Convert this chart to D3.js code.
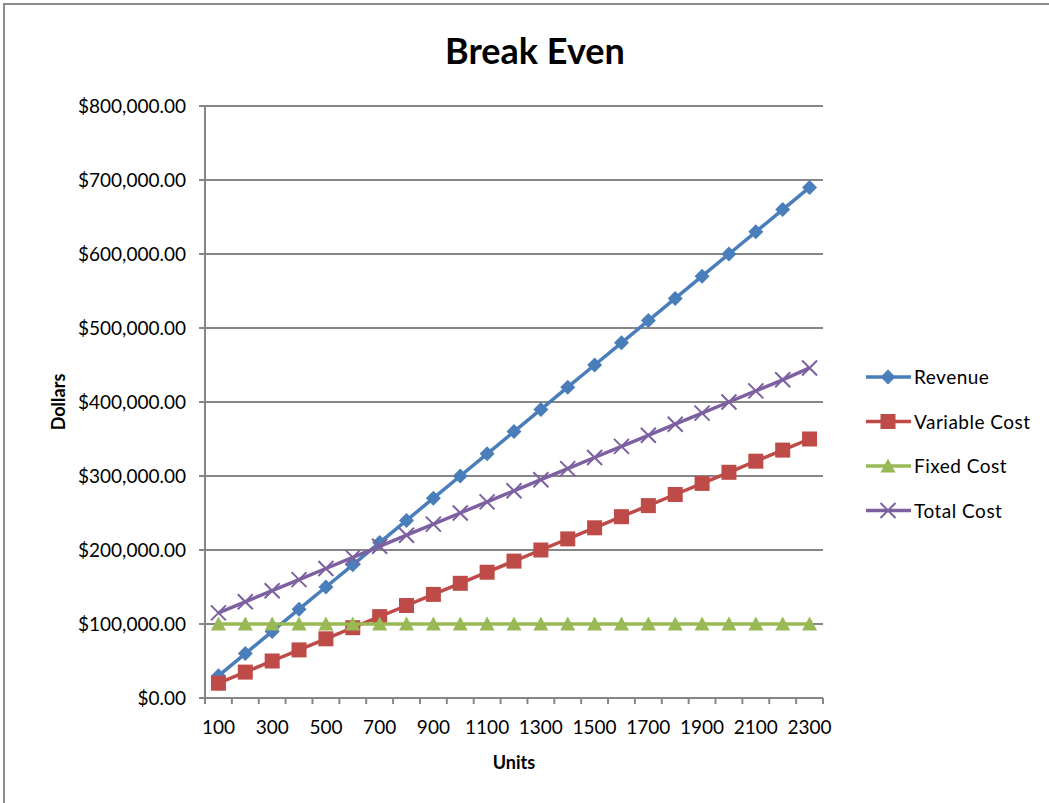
<!DOCTYPE html>
<html>
<head>
<meta charset="utf-8">
<script src="https://cdn.jsdelivr.net/npm/d3@7"></script>
<style>
  body { margin: 0; background: #fff; }
  svg { font-family: Lato, "Open Sans", sans-serif; }
</style>
</head>
<body>
<svg id="canvas" width="1049" height="803"></svg>
<script>
// chart data
const units = [100, 200, 300, 400, 500, 600, 700, 800, 900, 1000, 1100, 1200,
  1300, 1400, 1500, 1600, 1700, 1800, 1900, 2000, 2100, 2200, 2300]
const revenue = [30000, 60000, 90000, 120000, 150000, 180000, 210000, 240000, 270000, 300000,
  330000, 360000, 390000, 420000, 450000, 480000, 510000, 540000, 570000, 600000,
  630000, 660000, 690000]
const variableCost = [20000, 35000, 50000, 65000, 80000, 95000, 110000, 125000, 140000, 155000,
  170000, 185000, 200000, 215000, 230000, 245000, 260000, 275000, 290000, 305000,
  320000, 335000, 350000]
const fixedCost = [100000, 100000, 100000, 100000, 100000, 100000, 100000, 100000, 100000, 100000,
  100000, 100000, 100000, 100000, 100000, 100000, 100000, 100000, 100000, 100000,
  100000, 100000, 100000]
const totalCost = [115000, 130000, 145000, 160000, 175000, 190000, 205000, 220000, 235000, 250000,
  265000, 280000, 295000, 310000, 325000, 340000, 355000, 370000, 385000, 400000,
  415000, 430000, 446000]
const yTicks = [0, 100000, 200000, 300000, 400000, 500000, 600000, 700000, 800000]
const seriesNames = ['Revenue', 'Variable Cost', 'Fixed Cost', 'Total Cost']

const series = [
  {name: seriesNames[0], values: revenue, color: '#4a7ebb', marker: 'diamond'},
  {name: seriesNames[1], values: variableCost, color: '#be4b48', marker: 'square'},
  {name: seriesNames[2], values: fixedCost, color: '#98b954', marker: 'triangle'},
  {name: seriesNames[3], values: totalCost, color: '#7d60a0', marker: 'x'}
]

let canvas = d3.select('#canvas')

// chart frame
canvas.append('rect')
  .attr('x', 4).attr('y', 4)
  .attr('width', 1100).attr('height', 900)
  .attr('fill', 'none')
  .attr('stroke', '#8c8c8c')
  .attr('stroke-width', 2)

const plotLeft = 205, plotRight = 823, plotTop = 106, plotBottom = 698

let x = d3.scaleBand().domain(units).range([plotLeft, plotRight])
let y = d3.scaleLinear().domain([0, 800000]).range([plotBottom, plotTop])

// gridlines
canvas.append('g').selectAll('line')
  .data(yTicks)
  .enter().append('line')
  .attr('x1', plotLeft - 6).attr('x2', plotRight)
  .attr('y1', d => y(d)).attr('y2', d => y(d))
  .attr('stroke', '#868686')
  .attr('stroke-width', 2)

// y axis labels
canvas.append('g').selectAll('text')
  .data(yTicks)
  .enter().append('text')
  .attr('x', 186)
  .attr('y', d => y(d) + 7)
  .attr('text-anchor', 'end')
  .attr('font-size', 19)
  .attr('fill', '#000')
  .text(d => '$' + d3.format(',.2f')(d))

// y axis line
canvas.append('line')
  .attr('x1', plotLeft).attr('x2', plotLeft)
  .attr('y1', plotTop).attr('y2', plotBottom)
  .attr('stroke', '#868686').attr('stroke-width', 2)

// x axis line and ticks between categories
canvas.append('line')
  .attr('x1', plotLeft).attr('x2', plotRight)
  .attr('y1', plotBottom).attr('y2', plotBottom)
  .attr('stroke', '#868686').attr('stroke-width', 2)

const bounds = units.map(u => x(u)).concat([plotRight])
canvas.append('g').selectAll('line')
  .data(bounds)
  .enter().append('line')
  .attr('x1', d => d).attr('x2', d => d)
  .attr('y1', plotBottom).attr('y2', plotBottom + 6)
  .attr('stroke', '#868686').attr('stroke-width', 2)

canvas.append('g').selectAll('text')
  .data(units.filter((u, i) => i % 2 === 0))
  .enter().append('text')
  .attr('x', d => x(d) + x.bandwidth() / 2)
  .attr('y', 734)
  .attr('text-anchor', 'middle')
  .attr('font-size', 19)
  .text(d => d)

// titles
canvas.append('text')
  .attr('x', 535).attr('y', 64)
  .attr('text-anchor', 'middle')
  .attr('font-size', 36).attr('font-weight', 'bold')
  .text('Break Even')

canvas.append('text')
  .attr('x', 514).attr('y', 769)
  .attr('text-anchor', 'middle')
  .attr('font-size', 18).attr('font-weight', 'bold')
  .text('Units')

canvas.append('text')
  .attr('transform', 'translate(65,402) rotate(-90)')
  .attr('text-anchor', 'middle')
  .attr('font-size', 18).attr('font-weight', 'bold')
  .text('Dollars')

let drawMarker = (g, kind, color) => {
  if (kind === 'diamond') {
    g.append('path').attr('d', 'M0,-7.5L7.5,0L0,7.5L-7.5,0Z').attr('fill', color)
  } else if (kind === 'square') {
    g.append('rect').attr('x', -7.5).attr('y', -7.5).attr('width', 15).attr('height', 15).attr('fill', color)
  } else if (kind === 'triangle') {
    g.append('path').attr('d', 'M0,-7.5L7.5,6.5L-7.5,6.5Z').attr('fill', color)
  } else {
    g.append('path').attr('d', 'M-7.5,-7.5L7.5,7.5M-7.5,7.5L7.5,-7.5')
      .attr('stroke', color).attr('stroke-width', 2).attr('fill', 'none')
  }
}

let line = d3.line()
  .x((d, i) => x(units[i]) + x.bandwidth() / 2)
  .y(d => y(d))

series.forEach(s => {
  let g = canvas.append('g')
  g.append('path')
    .attr('d', line(s.values))
    .attr('fill', 'none')
    .attr('stroke', s.color)
    .attr('stroke-width', 3.5)
  s.values.forEach((v, i) => {
    let m = g.append('g')
      .attr('transform', `translate(${x(units[i]) + x.bandwidth() / 2},${y(v)})`)
    drawMarker(m, s.marker, s.color)
  })
})

// legend
series.forEach((s, i) => {
  let ly = 377 + i * 44.5
  let g = canvas.append('g')
  g.append('line')
    .attr('x1', 866).attr('x2', 911)
    .attr('y1', ly).attr('y2', ly)
    .attr('stroke', s.color).attr('stroke-width', 3.5)
  let m = g.append('g').attr('transform', `translate(888,${ly})`)
  drawMarker(m, s.marker, s.color)
  g.append('text')
    .attr('x', 914).attr('y', ly + 7)
    .attr('font-size', 19)
    .attr('letter-spacing', 0.5)
    .text(s.name)
})
</script>
</body>
</html>
